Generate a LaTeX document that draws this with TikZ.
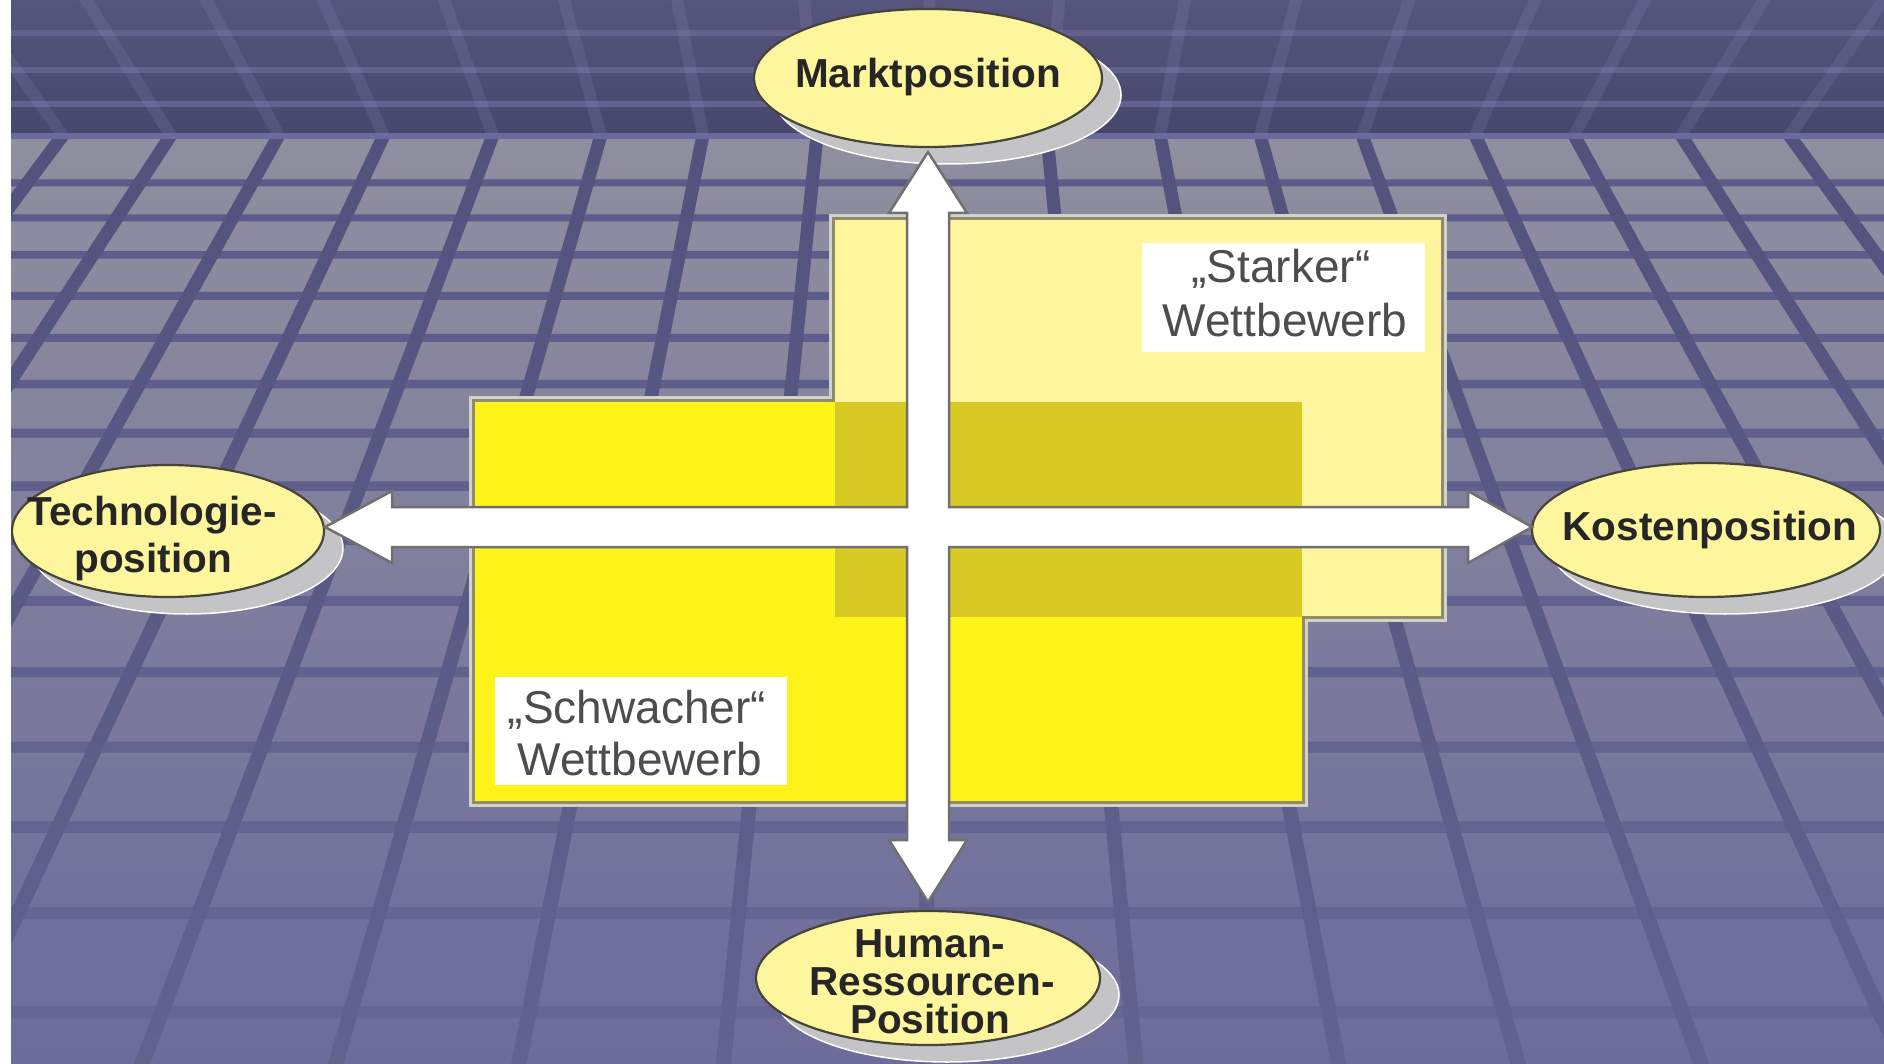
\documentclass[tikz,border=0pt]{standalone}
\usepackage{fontspec}
\setmainfont{Liberation Sans}
\usetikzlibrary{shapes.geometric,calc}

% room backdrop
\definecolor{walltop}{HTML}{56557D}
\definecolor{wallbot}{HTML}{47466C}
\definecolor{wallline}{HTML}{63628F}
\definecolor{wallrib}{HTML}{8A8AB8}
\definecolor{seam}{HTML}{6A69A0}
\definecolor{floortop}{HTML}{908F9F}
\definecolor{floorbot}{HTML}{6C6B9B}
\definecolor{stripetop}{HTML}{5C5B89}
\definecolor{stripebot}{HTML}{666695}
\definecolor{ribtop}{HTML}{52527D}
\definecolor{ribbot}{HTML}{62628F}
% panels and labels
\definecolor{paleyellow}{HTML}{FEF59C}
\definecolor{brightyellow}{HTML}{FFF31A}
\definecolor{overlapyellow}{HTML}{D9C924}
\definecolor{rimlight}{HTML}{D2D2CA}
\definecolor{rimdark}{HTML}{8F8C6C}
\definecolor{ovalfill}{HTML}{FDF69D}
\definecolor{ovalrim}{HTML}{45443A}
\definecolor{shadowgray}{HTML}{C4C4C6}
\definecolor{arrowrim}{HTML}{707070}
\definecolor{labelgray}{HTML}{4D4D4D}
\definecolor{labeldark}{HTML}{262626}

\def\ribpositions{63,171,279,384,493,601,703,817,930,1047,1160,1260,1362,1475,1574,1681,1789}

\begin{document}
\begin{tikzpicture}[x=1pt,y=-1pt,
  oval/.style={ellipse, draw=ovalrim, line width=2.2pt, fill=ovalfill, inner sep=0pt, outer sep=0pt},
  ovalshadow/.style={fill=shadowgray, draw=white, line width=1.5pt},
  ovallabel/.style={font=\fontsize{40.5}{40.5}\selectfont\bfseries, text=labeldark, inner sep=0pt, anchor=base},
  boxlabel/.style={font=\fontsize{46}{46}\selectfont, text=labelgray, inner sep=0pt, anchor=base},
  labelbox/.style={fill=white, draw=none, inner sep=0pt},
  bigarrow/.style={fill=white, draw=arrowrim, line width=2.5pt, line join=miter}]
\useasboundingbox (0,0) rectangle (1884,1064);
\clip (0,0) rectangle (1884,1064);

% back wall with its stripes and ribs
\shade[top color=walltop, bottom color=wallbot] (0,0) rectangle (1884,135);
\foreach \y in {33,70,104}
  \fill[wallline] (0,\y-3) rectangle (1884,\y+3);
\begin{scope}
  \clip (0,0) rectangle (1884,135);
  \foreach \k in \ribpositions
    \draw[wallrib, draw opacity=0.2, line width=12pt] (\k,136) -- ({\k+0.119*(\k-935)},-10);
\end{scope}

% floor with cross stripes and receding ribs
\shade[top color=floortop, bottom color=floorbot] (0,135) rectangle (1884,1064);
\shade[top color=stripetop, bottom color=stripebot]
  \foreach \y/\w in {183/7,218/7,255/7.5,296/8,338/8,384/8.5,433/9,486/9.5,540/10,601/10,672/10.5,747/11,827/11.5,913/12,1012/12}
  {(0,{\y-\w/2}) rectangle (1884,{\y+\w/2})};
\shade[top color=ribtop, bottom color=ribbot]
  \foreach \k [evaluate=\k as \s using (\k-935)/1170,
               evaluate=\k as \f using sqrt(1+(\k-935)/1170*(\k-935)/1170)] in \ribpositions
  { ({\k-6.5*\f},135) -- ({\k+6.5*\f},135) -- ({\k+929*\s+7.5*\f},1064) -- ({\k+929*\s-7.5*\f},1064) -- cycle };
\fill[seam] (0,133) rectangle (1884,139);

% the two competition fields, framed as one outline
\fill[rimlight] (469,396) rectangle (1308,807);
\fill[rimlight] (829,214) rectangle (1447,622);
\fill[rimdark] (472,399) rectangle (1305,804);
\fill[rimdark] (832,217) rectangle (1444,619);
\fill[brightyellow] (475,402) rectangle (1302,801);
\fill[paleyellow] (835,220) rectangle (1441,616);
\fill[overlapyellow] (835,402) rectangle (1302,617);

% field captions
\node[labelbox, minimum width=283pt, minimum height=109pt] (strongbox) at (1283.5,297.5) {};
\node[boxlabel] (strongA) at (1281,283) {„Starker“};
\node[boxlabel] (strongB) at (1285,337) {Wettbewerb};
\node[labelbox, minimum width=292pt, minimum height=108pt] (weakbox) at (641,731) {};
\node[boxlabel] (weakA) at (637,723) {„Schwacher“};
\node[boxlabel] (weakB) at (640,775) {Wettbewerb};

% shadows of the four position ovals
\path[ovalshadow] (947,95) ellipse [x radius=174pt, y radius=69pt];
\path[ovalshadow] (1725,547) ellipse [x radius=174pt, y radius=67pt];
\path[ovalshadow] (187,548) ellipse [x radius=156pt, y radius=66pt];
\path[ovalshadow] (947,995) ellipse [x radius=172pt, y radius=67pt];

% position ovals
\node[oval, minimum width=348pt, minimum height=138pt] (markt) at (928,78) {};
\node[oval, minimum width=348pt, minimum height=134pt] (kost) at (1706,530) {};
\node[oval, minimum width=312pt, minimum height=132pt] (tech) at (168,531) {};
\node[oval, minimum width=344pt, minimum height=134pt] (human) at (928,978) {};

\node[ovallabel] (marktlabel) at (928,88) {Marktposition};
\node[ovallabel] (kostlabel) at (1710,540) {Kostenposition};
\node[ovallabel] (techA) at (152,525) {Technologie-};
\node[ovallabel] (techB) at (153,572) {position};
\node[ovallabel] (humanA) at (930,957) {Human-};
\node[ovallabel] (humanB) at (932,995) {Ressourcen-};
\node[ovallabel] (humanC) at (930,1033) {Position};

% four-headed block arrow between the ovals
\coordinate (tipT) at ($(markt.south)+(0,5)$);
\coordinate (tipB) at ($(human.north)+(0,-9)$);
\coordinate (tipL) at ($(tech.east)+(1,-4)$);
\coordinate (tipR) at ($(kost.west)+(0,-3)$);
\path[bigarrow] (tipT) -- (967,213) -- (949,213) -- (949,507) -- (1468,507) -- (1468,491)
  -- (tipR) -- (1468,563) -- (1468,547) -- (949,547) -- (949,840) -- (967,840)
  -- (tipB) -- (889,840) -- (907,840) -- (907,547) -- (392,547) -- (392,563)
  -- (tipL) -- (392,491) -- (392,507) -- (907,507) -- (907,213) -- (889,213) -- cycle;

% white margin on the left
\fill[white] (0,0) rectangle (11,1064);
\end{tikzpicture}
\end{document}
